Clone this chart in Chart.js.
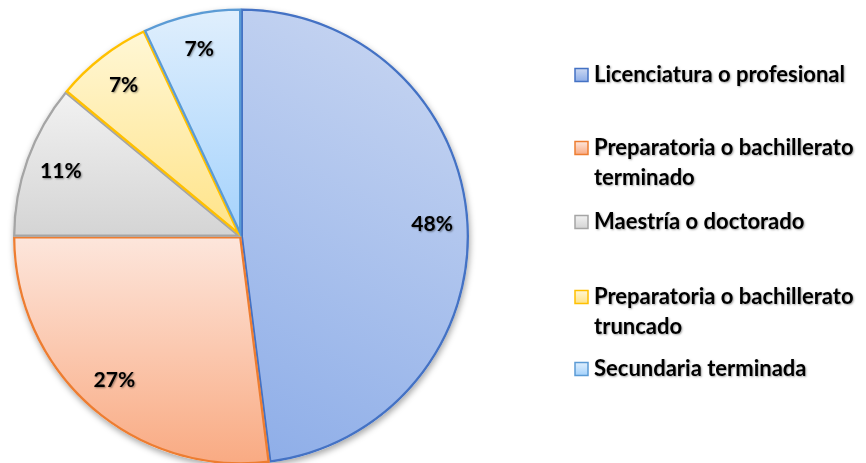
<!DOCTYPE html>
<html>
<head>
<meta charset="utf-8">
<script src="https://cdn.jsdelivr.net/npm/chart.js@4"></script>
<style>
  html, body { margin: 0; padding: 0; background: #ffffff; overflow: hidden; }
  #wrap { position: relative; width: 866px; height: 463px; }
</style>
</head>
<body>
<div id="wrap"><canvas id="chart"></canvas></div>
<script>
// Nivel de estudios (porcentaje de encuestados)
const categories = [
  'Licenciatura o profesional',
  'Preparatoria o bachillerato terminado',
  'Maestría o doctorado',
  'Preparatoria o bachillerato truncado',
  'Secundaria terminada'
];
const legendLines = [
  ['Licenciatura o profesional'],
  ['Preparatoria o bachillerato', 'terminado'],
  ['Maestría o doctorado'],
  ['Preparatoria o bachillerato', 'truncado'],
  ['Secundaria terminada']
];
const values = [48, 27, 11, 7, 7];

// Slice styling: light -> dark gradient stops and outline colour
const lightColors = ['#cbd8f2', '#fde6dc', '#f2f2f2', '#fff7d6', '#e0effd'];
const darkColors  = ['#8dade8', '#f9aa82', '#d4d4d4', '#ffe387', '#a4d2fc'];
const edgeColors  = ['#4472c4', '#ed7d31', '#a5a5a5', '#ffc000', '#5b9bd5'];

const PIE_R = 228;
const FONT = 'Lato, "Open Sans", sans-serif';

function pieGeometry(chart) {
  const a = chart.chartArea;
  return { cx: (a.left + a.right) / 2, cy: (a.top + a.bottom) / 2, r: PIE_R };
}

function sliceGradient(context) {
  const chart = context.chart;
  const i = context.dataIndex;
  if (!chart.chartArea) return lightColors[i];
  const { cx, cy, r } = pieGeometry(chart);
  const ctx = chart.ctx;
  const total = values.reduce((s, v) => s + v, 0);
  let start = 0;
  for (let k = 0; k < i; k++) start += values[k];
  const a0 = -Math.PI / 2 + 2 * Math.PI * start / total;
  const a1 = a0 + 2 * Math.PI * values[i] / total;
  // bounding box of the slice
  const pts = [[cx, cy]];
  for (let t = 0; t <= 40; t++) {
    const a = a0 + (a1 - a0) * t / 40;
    pts.push([cx + r * Math.cos(a), cy + r * Math.sin(a)]);
  }
  const xs = pts.map(p => p[0]), ys = pts.map(p => p[1]);
  const minX = Math.min(...xs), maxX = Math.max(...xs);
  const minY = Math.min(...ys), maxY = Math.max(...ys);
  let g;
  if (i === 0) {
    g = ctx.createLinearGradient(minX, maxY, maxX, minY);
  } else {
    g = ctx.createLinearGradient(0, minY, 0, maxY);
  }
  g.addColorStop(0, i === 0 ? darkColors[i] : lightColors[i]);
  g.addColorStop(1, i === 0 ? lightColors[i] : darkColors[i]);
  return g;
}

function markerGradient(ctx, i, x, y, s) {
  const g = ctx.createLinearGradient(0, y, 0, y + s);
  g.addColorStop(0, lightColors[i]);
  g.addColorStop(1, darkColors[i]);
  return g;
}

// Soft drop shadow beneath the pie
const pieShadow = {
  id: 'pieShadow',
  beforeDatasetsDraw(chart) {
    const { cx, cy, r } = pieGeometry(chart);
    const ctx = chart.ctx;
    ctx.save();
    ctx.shadowColor = 'rgba(0,0,0,0.35)';
    ctx.shadowBlur = 6;
    ctx.shadowOffsetX = 1;
    ctx.shadowOffsetY = 3;
    ctx.fillStyle = '#ffffff';
    ctx.beginPath();
    ctx.arc(cx, cy, r, 0, Math.PI * 2);
    ctx.fill();
    ctx.restore();
  }
};

// Percentage labels inside each slice
const sliceLabels = {
  id: 'sliceLabels',
  afterDatasetsDraw(chart) {
    const ctx = chart.ctx;
    const meta = chart.getDatasetMeta(0);
    ctx.save();
    ctx.font = 'bold 21px ' + FONT;
    ctx.textAlign = 'center';
    ctx.textBaseline = 'middle';
    ctx.fillStyle = '#000000';
    ctx.shadowColor = 'rgba(0,0,0,0.4)';
    ctx.shadowBlur = 2;
    ctx.shadowOffsetX = 1;
    ctx.shadowOffsetY = 1;
    meta.data.forEach((arc, i) => {
      const p = arc.getProps(['x', 'y', 'startAngle', 'endAngle', 'outerRadius'], true);
      const mid = (p.startAngle + p.endAngle) / 2;
      const d = p.outerRadius * 0.84;
      ctx.fillText(values[i] + '%', p.x + d * Math.cos(mid), p.y + d * Math.sin(mid));
    });
    ctx.restore();
  }
};

// Legend on the right, with wrapped labels
const sideLegend = {
  id: 'sideLegend',
  afterDraw(chart) {
    const ctx = chart.ctx;
    const rowY = [75, 148, 222, 297, 369];
    const lineGap = 30;
    const boxX = 575, boxS = 13, textX = 594;
    ctx.save();
    legendLines.forEach((lines, i) => {
      const y = rowY[i];
      ctx.fillStyle = markerGradient(ctx, i, boxX, y - boxS / 2, boxS);
      ctx.fillRect(boxX, y - boxS / 2, boxS, boxS);
      ctx.strokeStyle = edgeColors[i];
      ctx.lineWidth = 1.5;
      ctx.strokeRect(boxX, y - boxS / 2, boxS, boxS);
      ctx.font = 'bold 22px ' + FONT;
      ctx.fillStyle = '#000000';
      ctx.textAlign = 'left';
      ctx.textBaseline = 'middle';
      ctx.shadowColor = 'rgba(0,0,0,0.35)';
      ctx.shadowBlur = 2;
      ctx.shadowOffsetX = 1;
      ctx.shadowOffsetY = 1;
      lines.forEach((ln, k) => ctx.fillText(ln, textX, y + k * lineGap));
      ctx.shadowColor = 'transparent';
    });
    ctx.restore();
  }
};

new Chart(document.getElementById('chart'), {
  type: 'pie',
  data: {
    labels: categories,
    datasets: [{
      data: values,
      backgroundColor: sliceGradient,
      borderColor: edgeColors,
      borderWidth: 2,
      borderAlign: 'inner',
      radius: PIE_R,
      clip: false
    }]
  },
  options: {
    responsive: true,
    maintainAspectRatio: false,
    animation: false,
    layout: { padding: { left: 13, right: 397, top: 10, bottom: 0 } },
    plugins: {
      legend: { display: false },
      tooltip: { enabled: false }
    }
  },
  plugins: [pieShadow, sliceLabels, sideLegend]
});
</script>
</body>
</html>
